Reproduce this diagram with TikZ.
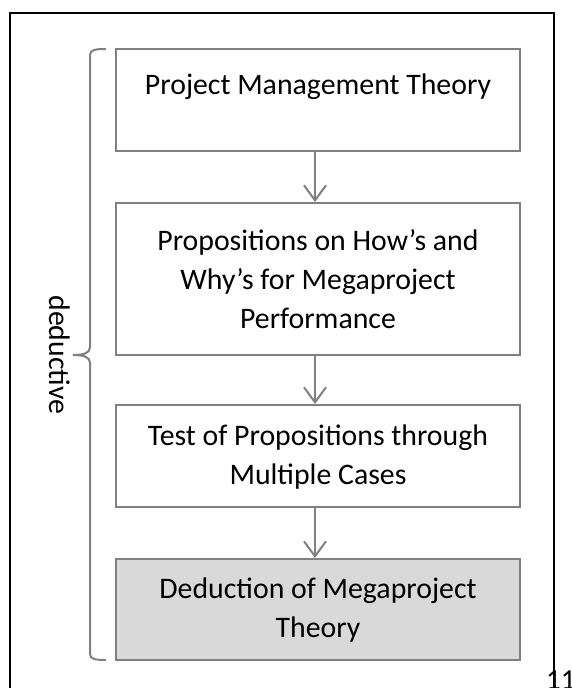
\documentclass[tikz,border=0pt]{standalone}
\usepackage{fontspec}
\setmainfont{Carlito}
\usetikzlibrary{arrows.meta}
\definecolor{linegray}{RGB}{128,128,128}
\definecolor{boxfill}{RGB}{217,217,217}
\tikzset{
  stagebox/.style={draw=linegray, line width=2pt, minimum width=404pt, inner sep=0pt},
  stagetext/.style={align=center, font=\fontsize{29.8}{39}\selectfont, inner sep=0pt, text=black},
  flow/.style={draw=linegray, line width=2pt, -{Straight Barb[length=15pt,width=22pt,line width=2pt]}},
  bracestyle/.style={draw=linegray, line width=2pt},
}
\begin{document}
\begin{tikzpicture}[x=1pt,y=-1pt]
\useasboundingbox (0,0) rectangle (571,688);
% outer frame
\draw[black, line width=1.8pt] (10,700) -- (10,13) -- (554,13) -- (554,700);
\node[font=\fontsize{29}{34}\selectfont, anchor=north west, inner sep=0pt] (pg) at (546,671) {11};
% boxes
\node[stagebox, minimum height=102pt] (b1) at (318,100) {};
\node[stagebox, minimum height=152pt] (b2) at (318,279) {};
\node[stagebox, minimum height=102pt] (b3) at (318,456) {};
\node[stagebox, minimum height=101pt, fill=boxfill] (b4) at (318,609.5) {};
\node[stagetext] (t1) at (318,87) {Project Management Theory};
\node[stagetext] (t2) at (318,279.5) {Propositions on How’s and\\Why’s for Megaproject\\Performance};
\node[stagetext] (t3) at (318,457) {Test of Propositions through\\Multiple Cases};
\node[stagetext] (t4) at (318,610) {Deduction of Megaproject\\Theory};
% arrows
\draw[flow] (b1.south -| 315,0) -- (b2.north -| 315,0);
\draw[flow] (b2.south -| 315,0) -- (b3.north -| 315,0);
\draw[flow] (b3.south -| 315,0) -- (b4.north -| 315,0);
% brace
\coordinate (bt) at (106,49);
\coordinate (bb) at (106,660);
\coordinate (tip) at (73,355);
\draw[bracestyle] (bt) .. controls (95,49) and (90,50) .. (90,55) -- (90,347) .. controls (90,353) and (84,355) .. (tip);
\draw[bracestyle] (tip) .. controls (84,355) and (90,357) .. (90,363) -- (90,654) .. controls (90,659) and (95,660) .. (bb);
\node[rotate=-90, font=\fontsize{29.8}{34}\selectfont, inner sep=0pt] (ded) at (60,355) {deductive};
\end{tikzpicture}
\end{document}
